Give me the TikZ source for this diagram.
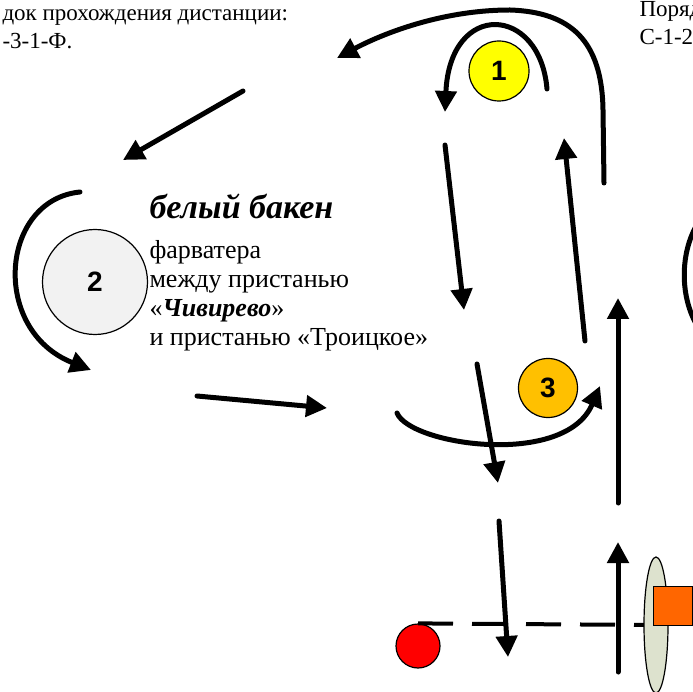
\documentclass[tikz,border=0pt]{standalone}
\usepackage{fontspec}
\setmainfont{Liberation Serif}
\newfontfamily\numfont{Liberation Sans}
\usepackage{tikz}
\usetikzlibrary{arrows.meta,positioning,shapes.geometric}
\definecolor{myyellow}{RGB}{255,255,0}
\definecolor{myorange}{RGB}{255,192,0}
\definecolor{mygray}{RGB}{242,242,242}
\definecolor{myred}{RGB}{255,0,0}
\definecolor{myflag}{RGB}{255,102,0}
\definecolor{mygate}{RGB}{221,226,206}

\begin{document}
\begin{tikzpicture}[x=1pt,y=-1pt,
    line width=5pt,line cap=round,
    route/.style={-{Triangle[length=21pt,width=21pt]}},
    buoy/.style={draw,circle,line width=1.2pt,inner sep=0pt,
      font=\numfont\bfseries\fontsize{28}{28}\selectfont},
    markbox/.style={draw,line width=1.2pt,inner sep=0pt},
    note/.style={inner sep=0pt,align=left,font=\fontsize{23}{28}\selectfont}
  ]
  \useasboundingbox (0,0) rectangle (693,692);
  \clip (0,0) rectangle (693,692);

  % the texts
  \node[note,anchor=north west] (order) at (0,7) {док прохождения дистанции:\\-3-1-Ф.};
  \node[note,anchor=north west] (order2) at (637,-1) {Поряд\\С-1-2};
  \node[anchor=base west,inner sep=0pt,font=\bfseries\itshape\fontsize{34}{34}\selectfont]
    (title) at (147,219) {белый бакен};
  \node[note,anchor=north west,font=\fontsize{26}{29}\selectfont] (about) at (147,238)
    {фарватера\\между пристанью\\«\textbf{\textit{Чивирево}}»\\и пристанью «Троицкое»};

  % the buoys
  \node[buoy,fill=myyellow,minimum size=60pt] (b1) at (499,71) {1};
  \node[buoy,fill=mygray,minimum size=105pt] (b2) at (95,282) {2};
  \node[buoy,fill=myorange,minimum size=59pt] (b3) at (548,388) {3};

  % the start line
  \node[markbox,circle,fill=myred,minimum size=44pt] (start) at (418,646) {};
  \draw[line width=4pt,line cap=butt,dash pattern=on 35pt off 19pt] (start.north) -- (656,625);
  \node[markbox,ellipse,fill=mygate,minimum width=24pt,minimum height=136pt] (gate) at (656,625) {};
  \node[markbox,fill=myflag,minimum size=39pt] (flag) at (673,606) {};

  % the ends of the legs
  \coordinate (u1) at (604,183);  \coordinate (u2) at (337,58);
  \coordinate (v1) at (243,91);   \coordinate (v2) at (123,160);
  \coordinate (w1) at (80,192);   \coordinate (w2) at (91,370);
  \coordinate (x1) at (197,396);  \coordinate (x2) at (327,408);
  \coordinate (y1) at (397,413);  \coordinate (y2) at (600,386);
  \coordinate (z1) at (547,89);   \coordinate (z2) at (445,112);
  \coordinate (d1) at (445,145);  \coordinate (d2) at (464,310);
  \coordinate (d3) at (477,364);  \coordinate (d4) at (498,483);
  \coordinate (d5) at (499,521);  \coordinate (d6) at (508,657);
  \coordinate (e1) at (585,341);  \coordinate (e2) at (564,138);
  \coordinate (e3) at (618,503);  \coordinate (e4) at (618,298);
  \coordinate (e5) at (618,672);  \coordinate (e6) at (618,542);
  \coordinate (r1) at (700,220);  \coordinate (r2) at (700,330);

  % the legs
  \draw[route] (u1) -- (603,110) .. controls (602,40) and (570,12) .. (510,10)
    .. controls (440,10) and (380,35) .. (u2);
  \draw[route] (v1) -- (v2);
  \draw[route] (w1) .. controls (0,200) and (-10,330) .. (w2);
  \draw[route] (x1) -- (x2);
  \draw[route] (y1) .. controls (410,445) and (565,468) .. (y2);
  \draw[route] (z1) .. controls (540,5) and (450,0) .. (z2);
  \draw[route] (d1) -- (d2);
  \draw[route] (d3) -- (d4);
  \draw[route] (d5) -- (d6);
  \draw[route] (e1) -- (e2);
  \draw[route] (e3) -- (e4);
  \draw[route] (e5) -- (e6);
  \draw (r1) .. controls (679,250) and (679,300) .. (r2);
\end{tikzpicture}
\end{document}
